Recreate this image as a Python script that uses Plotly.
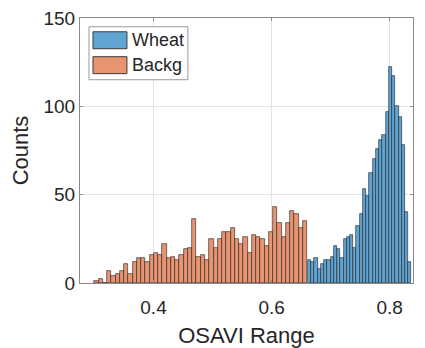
import plotly.graph_objects as go

# Histogram counts per bin (OSAVI values)
backg_counts = [1, 2, 0, 7, 4, 5, 7, 11, 5, 12, 14, 14, 12, 16, 17, 16, 22, 14, 15, 13,
                16, 19, 20, 36, 15, 16, 13, 25, 20, 25, 29, 29, 31, 25, 22, 26, 17, 27,
                26, 25, 21, 29, 43, 34, 26, 34, 41, 39, 31, 35]
backg_bin_start = 0.300
backg_bin_width = 0.0072

wheat_counts = [13, 12, 14, 8, 11, 13, 13, 15, 21, 19, 14, 25, 26, 27, 20, 32, 39, 53,
                49, 62, 70, 76, 81, 84, 97, 122, 117, 100, 94, 78, 40, 12]
wheat_bin_start = 0.6615
wheat_bin_width = 0.00548

series_names = ["Wheat", "Backg"]
x_ticks = [0.4, 0.6, 0.8]
y_ticks = [0, 50, 100, 150]

BLUE = "rgb(96,164,212)"
ORANGE = "rgb(232,148,112)"
EDGE = "rgba(30,30,30,0.85)"
FONT = "Liberation Sans, Arial, sans-serif"
TEXT = "#262626"


def centers(start, width, n):
    return [start + width * (i + 0.5) for i in range(n)]


fig = go.Figure()
fig.add_trace(go.Bar(
    x=centers(wheat_bin_start, wheat_bin_width, len(wheat_counts)),
    y=wheat_counts, width=wheat_bin_width, name=series_names[0],
    marker=dict(color=BLUE, line=dict(color=EDGE, width=0.7)),
))
fig.add_trace(go.Bar(
    x=centers(backg_bin_start, backg_bin_width, len(backg_counts)),
    y=backg_counts, width=backg_bin_width, name=series_names[1],
    marker=dict(color=ORANGE, line=dict(color=EDGE, width=0.7)),
))

axis_common = dict(
    showline=True, linecolor="#8a8a8a", linewidth=1, mirror="ticks",
    ticks="inside", ticklen=3, tickcolor="#8a8a8a",
    showgrid=True, gridcolor="#e3e3e3", gridwidth=1, zeroline=False,
    automargin=False,
    tickfont=dict(family=FONT, size=19, color=TEXT),
)

fig.update_layout(
    width=425, height=348,
    margin=dict(l=80, r=12, t=18, b=65),
    paper_bgcolor="white", plot_bgcolor="white",
    barmode="overlay", bargap=0, showlegend=False,
    xaxis=dict(range=[0.2755, 0.8395], tickvals=x_ticks,
               ticktext=[f"{v:.1f}" for v in x_ticks],
               ticklabelstandoff=7,
               title=dict(text="OSAVI Range", standoff=11,
                          font=dict(family=FONT, size=22, color=TEXT)),
               **axis_common),
    yaxis=dict(range=[0, 150], tickvals=y_ticks,
               title=dict(text="Counts", standoff=8,
                          font=dict(family=FONT, size=22, color=TEXT)),
               **axis_common),
)

# Legend box with large colour patches
fig.add_shape(type="rect", xref="paper", yref="paper",
              x0=0.027, x1=0.324, y0=0.767, y1=0.967,
              fillcolor="white", line=dict(color="#9a9a9a", width=1))
for color, name, yc in [(BLUE, series_names[0], 0.916), (ORANGE, series_names[1], 0.822)]:
    fig.add_shape(type="rect", xref="paper", yref="paper",
                  x0=0.039, x1=0.141, y0=yc - 0.032, y1=yc + 0.032,
                  fillcolor=color, line=dict(color="#3a3a3a", width=1))
    fig.add_annotation(xref="paper", yref="paper", x=0.150, y=yc,
                       text=name, showarrow=False, xanchor="left", yanchor="middle",
                       font=dict(family=FONT, size=18, color=TEXT))

fig.write_html("out.html")
